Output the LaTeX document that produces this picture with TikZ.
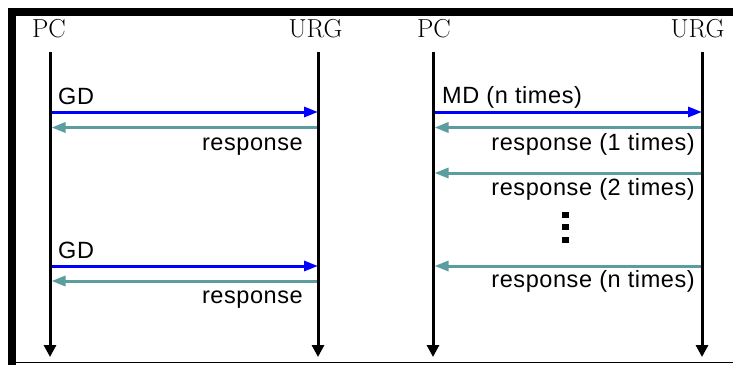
\documentclass[tikz,border=0pt]{standalone}
\usepackage{fontspec}
\usetikzlibrary{arrows.meta}
\newfontfamily\labfont[LetterSpace=2.5]{Liberation Sans}
\newfontfamily\actfont{Latin Modern Roman}
\definecolor{msgblue}{RGB}{0,0,255}
\definecolor{msgteal}{RGB}{92,158,160}
\begin{document}
\begin{tikzpicture}[x=1pt,y=-1pt,
  lifeline/.style={line width=3pt,-{Triangle[length=12pt,width=12pt]}},
  req/.style={msgblue,line width=3pt,-{Triangle[length=14pt,width=10pt]}},
  resp/.style={msgteal,line width=3pt,-{Triangle[length=14pt,width=10pt]}},
  actor/.style={font=\actfont\fontsize{26}{26}\selectfont,inner sep=0pt,anchor=base},
  lbl/.style={font=\labfont\fontsize{23.5}{24}\selectfont,inner sep=0pt},
  dotsq/.style={fill=black,minimum width=7pt,minimum height=6pt,inner sep=0pt,draw=none}]
\useasboundingbox (0,0) rectangle (733,365);
% frame
\fill[white] (0,0) rectangle (733,365);
\fill[black] (8,8) rectangle (733,16);
\fill[black] (8,8) rectangle (16,365);
\draw[line width=1.5pt] (16,362.5) -- (733,362.5);
% actors
\node[actor] (pcA) at (49,37) {PC};
\node[actor] (urgA) at (315.5,37) {URG};
\node[actor] (pcB) at (434,37) {PC};
\node[actor] (urgB) at (697.5,37) {URG};
% lifeline ends
\coordinate (pcAt) at (50,52);   \coordinate (pcAb) at (50,357);
\coordinate (urgAt) at (318,52); \coordinate (urgAb) at (318,357);
\coordinate (pcBt) at (433,52);  \coordinate (pcBb) at (433,357);
\coordinate (urgBt) at (702,52); \coordinate (urgBb) at (702,357);
\draw[lifeline] (pcAt) -- (pcAb);
\draw[lifeline] (urgAt) -- (urgAb);
\draw[lifeline] (pcBt) -- (pcBb);
\draw[lifeline] (urgBt) -- (urgBb);
% message points, left
\coordinate (a1p) at (51.5,112);  \coordinate (a1u) at (318,112);
\coordinate (a2u) at (316.5,127.5); \coordinate (a2p) at (51.5,127.5);
\coordinate (a3p) at (51.5,266);  \coordinate (a3u) at (318,266);
\coordinate (a4u) at (316.5,281); \coordinate (a4p) at (51.5,281);
\draw[req] (a1p) -- (a1u);
\draw[resp] (a2u) -- (a2p);
\draw[req] (a3p) -- (a3u);
\draw[resp] (a4u) -- (a4p);
\node[lbl,anchor=base west] (gd1) at (58,104) {GD};
\node[lbl,anchor=base east] (r1) at (303,150) {response};
\node[lbl,anchor=base west] (gd2) at (58,258) {GD};
\node[lbl,anchor=base east] (r2) at (303,303) {response};
% message points, right
\coordinate (b1p) at (434.5,112);  \coordinate (b1u) at (702,112);
\coordinate (b2u) at (700.5,127.5); \coordinate (b2p) at (434.5,127.5);
\coordinate (b3u) at (700.5,173); \coordinate (b3p) at (434.5,173);
\coordinate (b4u) at (700.5,266); \coordinate (b4p) at (434.5,266);
\draw[req] (b1p) -- (b1u);
\draw[resp] (b2u) -- (b2p);
\draw[resp] (b3u) -- (b3p);
\draw[resp] (b4u) -- (b4p);
\node[lbl,anchor=base west] (md) at (442,103) {MD (n times)};
\node[lbl,anchor=base east] (rb1) at (695,150) {response (1 times)};
\node[lbl,anchor=base east] (rb2) at (695,195) {response (2 times)};
\node[lbl,anchor=base east] (rbn) at (695,287) {response (n times)};
% dots
\node[dotsq] (d1) at (565.5,214.5) {};
\node[dotsq] (d2) at (565.5,227) {};
\node[dotsq] (d3) at (565.5,239.5) {};
\end{tikzpicture}
\end{document}
